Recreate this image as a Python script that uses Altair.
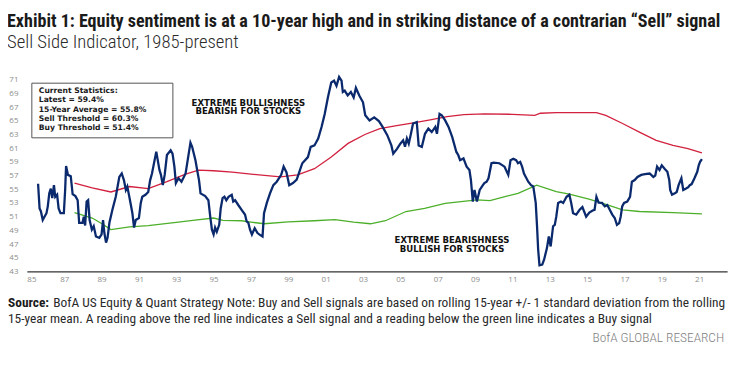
import altair as alt
import pandas as pd

# ---------------- data ----------------
ssi_years = [1985.60, 1985.68, 1985.75, 1985.85, 1985.93, 1986.05, 1986.12, 1986.20, 1986.28, 1986.36,
             1986.45, 1986.52, 1986.62, 1986.70, 1986.80, 1986.98, 1987.05, 1987.10, 1987.20, 1987.35,
             1987.45, 1987.60, 1987.72, 1987.80, 1987.98, 1988.05, 1988.12, 1988.20, 1988.28, 1988.36,
             1988.48, 1988.58, 1988.70, 1988.88, 1989.00, 1989.08, 1989.15, 1989.24, 1989.32, 1989.42,
             1989.58, 1989.76, 1989.95, 1990.08, 1990.20, 1990.30, 1990.38, 1990.45, 1990.55, 1990.65,
             1990.74, 1990.83, 1991.00, 1991.10, 1991.18, 1991.35, 1991.50, 1991.60, 1991.70, 1991.93,
             1992.10, 1992.18, 1992.28, 1992.38, 1992.50, 1992.70, 1992.80, 1992.90, 1992.98, 1993.12,
             1993.28, 1993.50, 1993.76, 1993.85, 1994.03, 1994.12, 1994.22, 1994.30, 1994.55, 1994.72,
             1994.82, 1994.91, 1995.00, 1995.08, 1995.17, 1995.30, 1995.38, 1995.48, 1995.58, 1995.68,
             1995.80, 1995.97, 1996.05, 1996.15, 1996.32, 1996.50, 1996.68, 1996.77, 1996.86, 1996.95,
             1997.05, 1997.20, 1997.35, 1997.50, 1997.62, 1997.70, 1997.85, 1998.02, 1998.20, 1998.38,
             1998.62, 1998.75, 1998.90, 1999.05, 1999.25, 1999.45, 1999.65, 1999.75, 2000.05, 2000.20,
             2000.40, 2000.60, 2000.78, 2000.95, 2001.12, 2001.30, 2001.45, 2001.58, 2001.72, 2001.85,
             2001.92, 2002.02, 2002.18, 2002.35, 2002.50, 2002.62, 2002.80, 2003.00, 2003.12, 2003.35,
             2003.60, 2003.85, 2004.05, 2004.30, 2004.52, 2004.62, 2004.82, 2005.00, 2005.15, 2005.25,
             2005.35, 2005.45, 2005.55, 2005.68, 2005.88, 2005.98, 2006.15, 2006.32, 2006.50, 2006.68,
             2006.87, 2006.96, 2007.10, 2007.22, 2007.40, 2007.58, 2007.78, 2008.00, 2008.10, 2008.20,
             2008.38, 2008.55, 2008.70, 2008.78, 2008.88, 2008.97, 2009.10, 2009.25, 2009.42, 2009.50,
             2009.62, 2009.72, 2009.88, 2010.00, 2010.30, 2010.58, 2010.78, 2010.90, 2011.05, 2011.20,
             2011.30, 2011.42, 2011.52, 2011.62, 2011.85, 2012.00, 2012.12, 2012.25, 2012.32, 2012.38,
             2012.45, 2012.60, 2012.70, 2012.85, 2012.95, 2013.05, 2013.18, 2013.27, 2013.35, 2013.45,
             2013.60, 2013.72, 2013.90, 2014.05, 2014.15, 2014.25, 2014.42, 2014.60, 2014.75, 2014.95,
             2015.12, 2015.30, 2015.40, 2015.50, 2015.62, 2015.80, 2015.95, 2016.08, 2016.18, 2016.35,
             2016.48, 2016.60, 2016.72, 2016.80, 2016.88, 2016.98, 2017.15, 2017.30, 2017.40, 2017.55,
             2017.70, 2017.90, 2018.10, 2018.35, 2018.55, 2018.65, 2018.75, 2018.88, 2019.00, 2019.15,
             2019.30, 2019.40, 2019.45, 2019.55, 2019.70, 2019.80, 2019.90, 2020.05, 2020.15, 2020.30,
             2020.42, 2020.50, 2020.60, 2020.75, 2020.90, 2020.98, 2021.05, 2021.15]
ssi_values = [55.8, 52.2, 51.8, 50.5, 50.9, 51.5, 52.5, 54.4, 55.1, 53.7,
              55.6, 53.9, 54.2, 52.2, 51.5, 51.5, 54.9, 58.4, 57.1, 56.9,
              54.3, 54.0, 53.4, 50.1, 50.1, 51.0, 49.7, 53.2, 53.4, 50.5,
              49.1, 49.6, 48.1, 47.9, 48.4, 50.5, 48.6, 47.2, 47.9, 50.1,
              52.0, 53.9, 56.8, 57.3, 56.3, 54.9, 55.4, 54.4, 53.0, 51.5,
              49.4, 50.5, 50.8, 53.0, 53.9, 54.2, 54.6, 56.3, 57.3, 60.5,
              57.8, 57.1, 55.6, 57.1, 60.0, 60.7, 60.2, 58.3, 55.9, 56.6,
              56.1, 57.3, 61.8, 61.2, 59.2, 57.8, 56.3, 54.4, 54.0, 53.4,
              51.0, 49.1, 48.4, 49.4, 48.8, 49.8, 52.2, 53.7, 53.9, 53.4,
              53.9, 54.2, 53.2, 53.4, 52.7, 52.0, 51.3, 50.3, 50.1, 49.1,
              48.4, 49.3, 48.6, 48.3, 48.1, 51.5, 53.0, 54.4, 55.6, 56.1,
              57.1, 58.3, 57.5, 55.6, 55.9, 56.4, 58.0, 58.8, 59.7, 61.2,
              61.4, 62.4, 64.1, 66.0, 68.4, 70.6, 70.85, 70.1, 71.4, 70.85,
              69.2, 69.4, 68.7, 69.2, 68.4, 69.8, 68.7, 67.7, 65.8, 65.05,
              65.5, 64.95, 64.1, 62.9, 61.4, 60.2, 60.9, 61.65, 62.15, 61.2,
              62.4, 61.65, 62.9, 64.6, 64.8, 61.4, 61.2, 63.1, 63.85, 63.35,
              64.1, 63.1, 66.0, 65.8, 65.05, 64.1, 62.6, 60.45, 60.0, 59.25,
              59.5, 58.3, 57.8, 56.35, 53.2, 54.9, 53.2, 54.9, 55.6, 55.9,
              56.1, 56.6, 58.8, 58.9, 58.8, 58.3, 57.1, 59.25, 59.45, 59.25,
              58.8, 59.0, 58.3, 57.3, 56.1, 55.6, 55.4, 53.0, 49.6, 46.2,
              43.9, 44.0, 44.75, 46.4, 48.1, 46.65, 49.6, 49.8, 51.0, 53.0,
              53.2, 53.0, 53.9, 54.2, 53.0, 51.5, 51.3, 52.0, 52.4, 51.0,
              51.6, 51.9, 52.0, 53.9, 53.05, 53.0, 52.5, 52.7, 52.2, 51.3,
              50.8, 49.8, 50.05, 51.0, 52.5, 53.0, 53.2, 53.9, 56.1, 56.35,
              56.8, 57.1, 57.2, 57.3, 56.8, 57.0, 58.3, 57.8, 58.5, 58.0,
              57.55, 56.35, 54.9, 54.2, 54.4, 54.6, 55.6, 56.6, 54.9, 55.1,
              55.3, 55.6, 55.75, 56.6, 57.55, 58.5, 59.0, 59.4]

sell_years = [1987.55, 1988.5, 1989.5, 1990.5, 1991.5, 1992.5, 1993.5, 1994.2, 1995.0, 1996.0,
              1997.0, 1998.0, 1998.6, 1999.5, 2000.4, 2001.3, 2002.2, 2003.1, 2003.9, 2004.8,
              2005.7, 2006.6, 2007.5, 2008.4, 2009.5, 2011.0, 2012.2, 2012.5, 2013.35, 2015.5,
              2016.0, 2016.9, 2017.8, 2018.7, 2019.6, 2020.4, 2021.15]
sell_values = [55.9, 55.2, 54.6, 55.4, 55.1, 56.1, 57.2, 57.8, 57.7, 57.5,
               57.2, 56.95, 56.8, 57.1, 58.0, 59.7, 61.7, 63.0, 63.85, 64.3,
               64.7, 65.15, 65.6, 65.9, 66.0, 65.95, 65.8, 66.1, 66.2, 66.2,
               65.8, 64.6, 63.35, 62.15, 61.4, 60.95, 60.3]

buy_years = [1987.55, 1988.5, 1989.0, 1989.5, 1990.5, 1991.5, 1993.0, 1994.0, 1995.0, 1995.5,
             1996.5, 1997.0, 1997.7, 1999.0, 2000.4, 2001.5, 2002.5, 2003.4, 2004.2, 2005.3,
             2006.3, 2007.4, 2009.1, 2009.8, 2010.7, 2011.3, 2012.3, 2013.35, 2014.05, 2015.1,
             2015.85, 2016.9, 2017.8, 2019.6, 2021.15]
buy_values = [51.6, 50.8, 50.0, 49.1, 49.5, 49.7, 50.15, 50.5, 50.8, 50.45,
              50.4, 50.2, 49.96, 50.25, 50.4, 50.55, 50.2, 49.96, 50.4, 51.75,
              52.2, 52.95, 53.45, 53.35, 54.0, 54.4, 55.6, 54.65, 54.3, 53.55,
              52.95, 52.0, 51.75, 51.6, 51.4]

x_tick_years = list(range(1985, 2022, 2))
y_tick_values = list(range(43, 72, 2))

title_text = "Exhibit 1: Equity sentiment is at a 10-year high and in striking distance of a contrarian \u201cSell\u201d signal"
subtitle_text = "Sell Side Indicator, 1985-present"
stats_lines = ["Current Statistics:", "Latest = 59.4%", "15-Year Average = 55.8%",
               "Sell Threshold = 60.3%", "Buy Threshold = 51.4%"]
bull_note = ["EXTREME BULLISHNESS", "BEARISH FOR STOCKS"]
bear_note = ["EXTREME BEARISHNESS", "BULLISH FOR STOCKS"]
source_label = "Source:"
source_line1 = "BofA US Equity & Quant Strategy Note: Buy and Sell signals are based on rolling 15-year +/- 1 standard deviation from the rolling"
source_line2 = "15-year mean. A reading above the red line indicates a Sell signal and a reading below the green line indicates a Buy signal"
brand_text = "BofA GLOBAL RESEARCH"

# ---------------- chart ----------------
W, H = 705, 193
COND = "Roboto Condensed"
x_scale = alt.Scale(domain=[1985, 2022.5], nice=False, zero=False)
y_scale = alt.Scale(domain=[43, 71], nice=False, zero=False)

ssi_df = pd.DataFrame({"year": ssi_years, "value": ssi_values})
sell_df = pd.DataFrame({"year": sell_years, "value": sell_values})
buy_df = pd.DataFrame({"year": buy_years, "value": buy_values})

x_axis = alt.Axis(values=x_tick_years, labelExpr="slice('0' + (datum.value % 100), -2)",
                  grid=False, ticks=False, domain=True, domainColor="#333333", domainWidth=1.3,
                  labelColor="#8c8c8c", labelFontSize=8, labelFont="Open Sans",
                  labelPadding=4, title=None)
y_axis = alt.Axis(values=y_tick_values, grid=False, ticks=False, domain=False,
                  labelColor="#8c8c8c", labelFontSize=8, labelFont="Open Sans",
                  labelPadding=9, title=None)

def series_line(df, color, width):
    return alt.Chart(df).mark_line(color=color, strokeWidth=width).encode(
        x=alt.X("year:Q", scale=x_scale, axis=x_axis),
        y=alt.Y("value:Q", scale=y_scale, axis=y_axis))

sell_line = series_line(sell_df, "#d2213f", 1.3)
buy_line = series_line(buy_df, "#4caf2a", 1.3)
ssi_line = series_line(ssi_df, "#0b2a6e", 2.3)

one = pd.DataFrame({"k": [0]})

def text_layer(text, x, y, **kw):
    return alt.Chart(one).mark_text(**kw).encode(
        x=alt.value(x), y=alt.value(y), text=alt.value(text))

stats_box = alt.Chart(one).mark_rect(fill="white", stroke="#555555", strokeWidth=1).encode(
    x=alt.value(5), x2=alt.value(147), y=alt.value(3.5), y2=alt.value(58.5))

stats_text = text_layer("\n".join(stats_lines), 12, 7.5, align="left", baseline="top",
                        font="DejaVu Sans", fontWeight="bold", fontSize=7.7,
                        lineBreak="\n", lineHeight=9.4, color="#1a1a1a")
bull_text = text_layer("\n".join(bull_note), 223, 19, align="center", baseline="top",
                       font="DejaVu Sans", fontWeight="bold", fontSize=8.6,
                       lineBreak="\n", lineHeight=9, color="#111111")
bear_text = text_layer("\n".join(bear_note), 428, 157, align="center", baseline="top",
                       font="DejaVu Sans", fontWeight="bold", fontSize=8.6,
                       lineBreak="\n", lineHeight=9, color="#111111")

title_mark = text_layer(title_text, -20, -53.5, align="left", baseline="alphabetic",
                        font=COND, fontWeight="bold", fontSize=18.2, color="#1a1a1a")
subtitle_mark = text_layer(subtitle_text, -20, -31.8, align="left", baseline="alphabetic",
                           font=COND, fontWeight=300, fontSize=18.8, color="#2a2a2a")
source_lbl = text_layer(source_label, -19, 229, align="left", baseline="alphabetic",
                        font=COND, fontWeight="bold", fontSize=13.5, color="#1a1a1a")
source_l1 = text_layer(source_line1, 26.5, 229, align="left", baseline="alphabetic",
                       font=COND, fontSize=13.5, color="#2a2a2a")
source_l2 = text_layer(source_line2, -19, 245, align="left", baseline="alphabetic",
                       font=COND, fontSize=13.5, color="#2a2a2a")
brand = text_layer(brand_text, 702, 264, align="right", baseline="alphabetic",
                   font=COND, fontWeight=300, fontSize=13.5, color="#808080")

chart = alt.layer(
    sell_line, buy_line, ssi_line, stats_box, stats_text, bull_text, bear_text,
    title_mark, subtitle_mark, source_lbl, source_l1, source_l2, brand
).properties(
    width=W, height=H,
    autosize=alt.AutoSizeParams(type="none"),
    padding={"left": 19, "top": 71, "right": 20, "bottom": 89},
    background="white",
).configure_view(stroke=None)

chart.save("out.html", embed_options={"renderer": "svg", "actions": False})
